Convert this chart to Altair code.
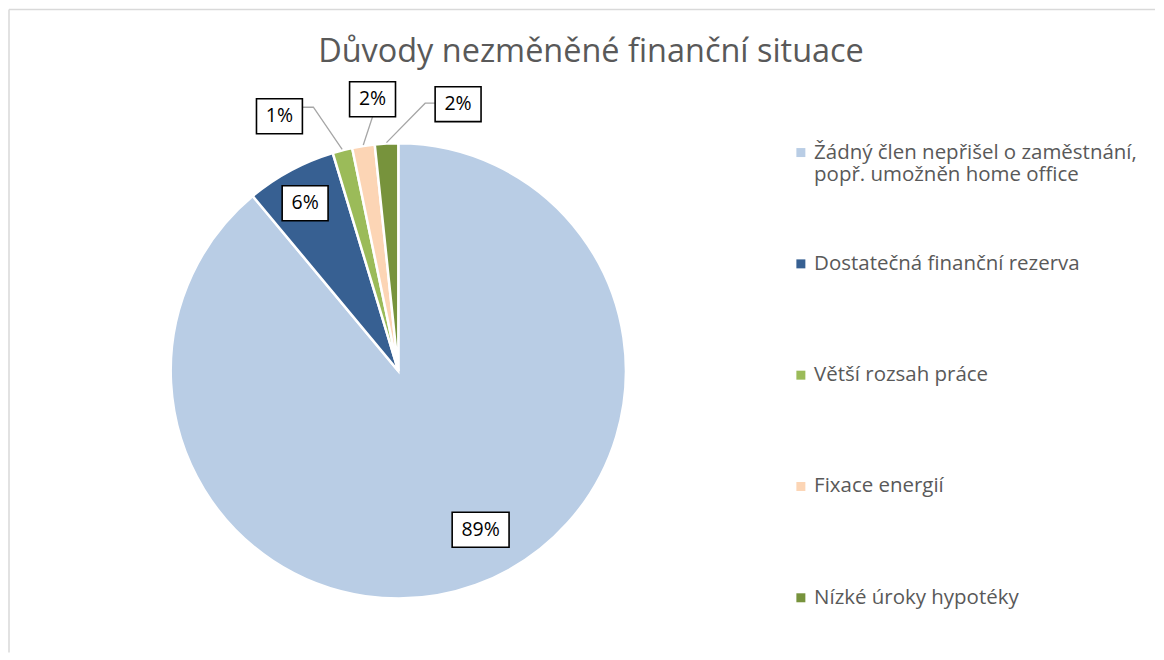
import math
import altair as alt
import pandas as pd

# ---------------- data ----------------
categories = [
    "Žádný člen nepřišel o zaměstnání,\npopř. umožněn home office",
    "Dostatečná finanční rezerva",
    "Větší rozsah práce",
    "Fixace energií",
    "Nízké úroky hypotéky",
]
values = [88.95, 6.4, 1.4, 1.6, 1.65]

# ---------------- style / layout ----------------
colors = ["#B9CDE5", "#376092", "#9BBB59", "#FCD5B5", "#77933C"]
FONT = "Open Sans"
R = 228  # pie radius (px)
# manual label placement (as dragged in the original): shift of angle from the slice middle, radius factor
label_angle_shift = [-7.5, -0.8, -10.8, 3.4, 15.6]
label_radius_frac = [0.786, 0.843, 1.235, 1.199, 1.201]
leader_side = ["none", "none", "right", "bottom", "left"]
BOX_H = 35

# ---------------- derived table ----------------
total = sum(values)
rows, lead = [], []
cum = 0.0
for i, (c, v) in enumerate(zip(categories, values)):
    mid = (cum + v / 2) / total * 360
    cum += v
    a = math.radians(mid + label_angle_shift[i])
    r = R * label_radius_frac[i]
    lx, ly = r * math.sin(a), r * math.cos(a)
    txt = f"{round(v / total * 100)}%"
    w = 24 + 11 * len(txt)
    rows.append(dict(category=c, value=v, order=i, label=txt, lx=lx, ly=ly,
                     bx1=lx - w / 2, bx2=lx + w / 2, by1=ly - BOX_H / 2, by2=ly + BOX_H / 2))
    side = leader_side[i]
    if side != "none":
        m = math.radians(mid)
        ex, ey = (R + 1) * math.sin(m), (R + 1) * math.cos(m)
        if side == "right":
            pts = [(lx + w / 2, ly + 9), (lx + w / 2 + 11, ly + 9), (ex, ey)]
        elif side == "left":
            pts = [(lx - w / 2, ly + 1), (lx - w / 2 - 10, ly + 1), (ex, ey)]
        else:
            pts = [(lx, ly - BOX_H / 2), (ex, ey)]
        for k, (px, py) in enumerate(pts):
            lead.append(dict(category=c, pt=k, px=px, py=py))

df = pd.DataFrame(rows)
dl = pd.DataFrame(lead)

W, H = 1148, 644
CX, CY = 390, 362
xs = alt.Scale(domain=[-CX, W - CX], nice=False, zero=False)
ys = alt.Scale(domain=[-(H - CY), CY], nice=False, zero=False)

border = alt.Chart(pd.DataFrame({"a": [0]}))
left_border = border.mark_rule(color="#D9D9D9", strokeWidth=1.5).encode(x=alt.value(0))
top_border = border.mark_rule(color="#D9D9D9", strokeWidth=1.5).encode(y=alt.value(0))

pie = alt.Chart(df).mark_arc(outerRadius=R, stroke="white", strokeWidth=2.5).encode(
    theta=alt.Theta("value:Q", stack=True),
    order=alt.Order("order:Q"),
    color=alt.Color(
        "category:N",
        sort=categories,
        scale=alt.Scale(domain=categories, range=colors),
        legend=alt.Legend(
            title=None,
            orient="none",
            legendX=783,
            legendY=133,
            padding=0,
            symbolType="square",
            symbolSize=81,
            symbolStrokeWidth=0,
            labelFont=FONT,
            labelFontSize=20.5,
            labelColor="#595959",
            labelLimit=500,
            labelOffset=3,
            rowPadding=67.5,
            gridAlign="all",
            labelExpr="split(datum.label, '\\n')",
        ),
    ),
    x=alt.X(datum=0, type="quantitative", scale=xs, axis=None),
    y=alt.Y(datum=0, type="quantitative", scale=ys, axis=None),
)

leaders = alt.Chart(dl).mark_line(color="#A6A6A6", strokeWidth=1.3).encode(
    x=alt.X("px:Q", scale=xs, axis=None),
    y=alt.Y("py:Q", scale=ys, axis=None),
    detail="category:N",
    order="pt:Q",
)

boxes = alt.Chart(df).mark_rect(fill="white", stroke="black", strokeWidth=1.6).encode(
    x=alt.X("bx1:Q", scale=xs, axis=None), x2="bx2:Q",
    y=alt.Y("by1:Q", scale=ys, axis=None), y2="by2:Q",
)

texts = alt.Chart(df).mark_text(font=FONT, fontSize=19.5, color="black", baseline="middle").encode(
    x=alt.X("lx:Q", scale=xs, axis=None),
    y=alt.Y("ly:Q", scale=ys, axis=None),
    text="label:N",
)

chart = alt.layer(left_border, top_border, pie, leaders, boxes, texts).properties(
    width=W,
    height=H,
    padding={"left": 0, "top": 0, "right": 0, "bottom": 0},
    title=alt.TitleParams(
        "Důvody nezměněné finanční situace",
        font=FONT,
        fontSize=32.5,
        fontWeight="normal",
        color="#595959",
        anchor="middle",
        offset=-60,
        dx=9,
    ),
).configure_view(stroke=None)

chart.save("out.html", embed_options={"renderer": "svg", "actions": False})
